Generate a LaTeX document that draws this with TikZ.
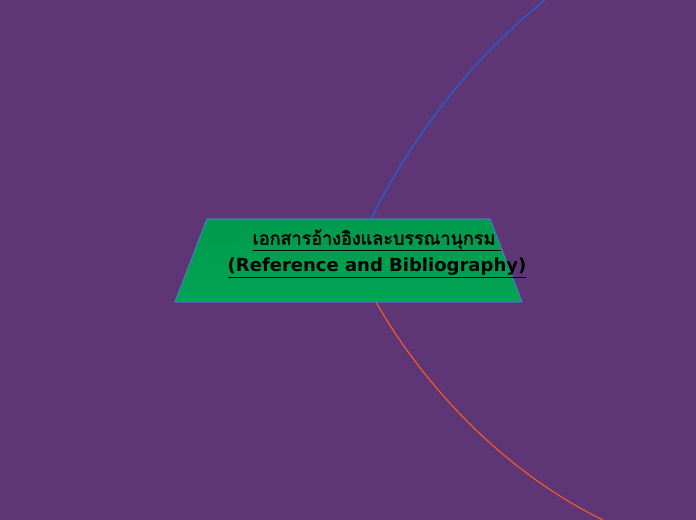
\documentclass[tikz,border=0pt]{standalone}
\usepackage{fontspec}
\setmainfont{DejaVu Sans}
\newfontfamily\thaifont[Script=Thai,AutoFakeBold=2]{Loma}
\definecolor{bgpurple}{HTML}{5E3675}
\definecolor{topicgreen}{HTML}{00A552}
\definecolor{topicdark}{HTML}{009A4C}
\definecolor{topicedge}{HTML}{3F80C0}
\definecolor{linkblue}{HTML}{1E64D8}
\definecolor{linkorange}{HTML}{F05A28}
\tikzset{
	topic/.style={top color=topicdark, bottom color=topicgreen, draw=topicedge, line width=0.8bp},
	title/.style={align=center, text=black,
		font=\fontsize{18bp}{27bp}\selectfont\bfseries},
	link/.style={line width=1.2bp},
}

\begin{document}
\begin{tikzpicture}[x=1bp, y=1bp]
	\fill[bgpurple] (0,0) rectangle (696,520);
	\useasboundingbox (0,0) rectangle (696,520);

	% main topic (y measured upward from the bottom edge)
	\coordinate (mainTL) at (207,301);
	\coordinate (mainTR) at (490,301);
	\coordinate (mainBR) at (522,218);
	\coordinate (mainBL) at (175,218);
	\coordinate (mainTop) at (371,301);
	\coordinate (mainBottom) at (376,218);
	\coordinate (upEnd) at (545,520);
	\coordinate (downEnd) at (603,0);

	\draw[link, linkblue] (mainTop) .. controls (410,380) and (470,460) .. (upEnd);
	\draw[link, linkorange] (mainBottom) .. controls (420,140) and (500,50) .. (downEnd);

	\shade[topic] (mainTL) -- (mainTR) -- (mainBR) -- (mainBL) -- cycle;
	\draw[topic, shade=false] (mainTL) -- (mainTR) -- (mainBR) -- (mainBL) -- cycle;
	\node[title] (mainText) at (377,266.5) {{\thaifont\underline{เอกสารอ้างอิงและบรรณานุกรม\ }}\\\underline{(Reference and Bibliography)}};
\end{tikzpicture}
\end{document}
